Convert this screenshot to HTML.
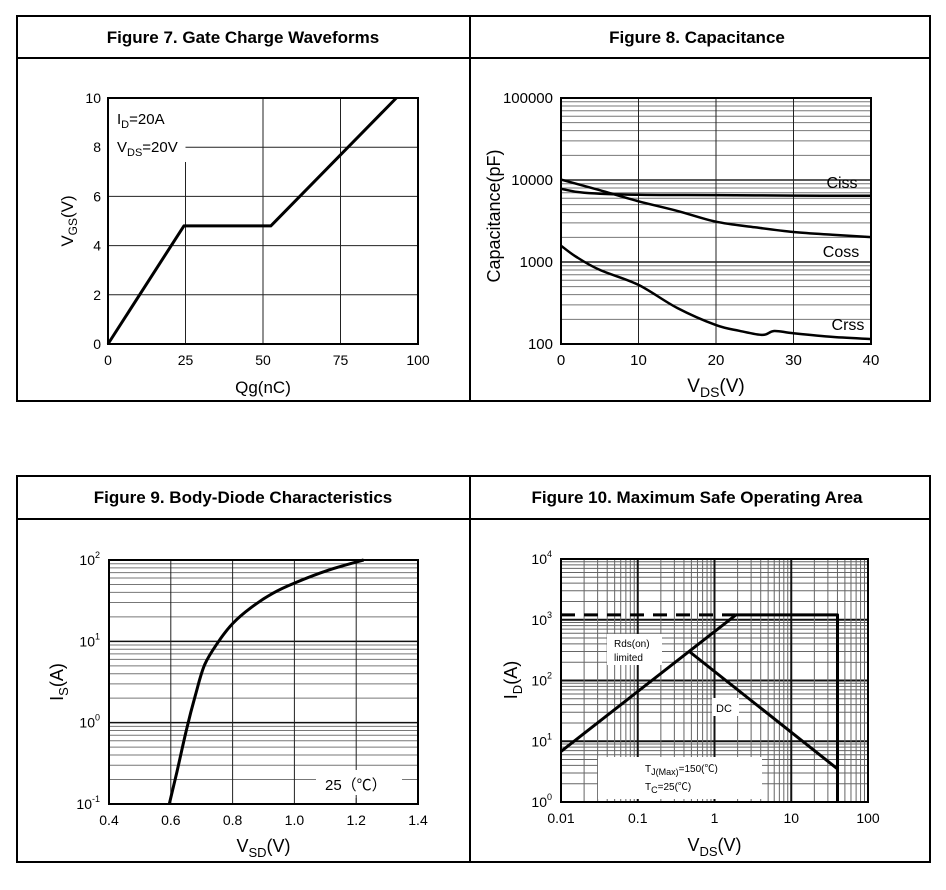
<!DOCTYPE html>
<html><head><meta charset="utf-8"><style>
html,body{margin:0;padding:0;background:#fff;}
svg{display:block;font-family:"Liberation Sans","Noto Sans CJK SC",sans-serif;}
</style></head><body>
<svg id="s" width="946" height="890" viewBox="0 0 946 890" xmlns="http://www.w3.org/2000/svg">
<g id="frames">
<rect x="17" y="16" width="913" height="385" fill="none" stroke="#000" stroke-width="2"/>
<line x1="470" y1="16" x2="470" y2="401" stroke="#000" stroke-width="2"/>
<line x1="17" y1="58" x2="930" y2="58" stroke="#000" stroke-width="2"/>
<rect x="17" y="476" width="913" height="386" fill="none" stroke="#000" stroke-width="2"/>
<line x1="470" y1="476" x2="470" y2="862" stroke="#000" stroke-width="2"/>
<line x1="17" y1="519" x2="930" y2="519" stroke="#000" stroke-width="2"/>
<text x="243" y="43" text-anchor="middle" font-size="17" font-weight="bold">Figure 7. Gate Charge Waveforms</text>
<text x="697" y="43" text-anchor="middle" font-size="17" font-weight="bold">Figure 8. Capacitance</text>
<text x="243" y="503" text-anchor="middle" font-size="17" font-weight="bold">Figure 9. Body-Diode Characteristics</text>
<text x="697" y="503" text-anchor="middle" font-size="17" font-weight="bold">Figure 10. Maximum Safe Operating Area</text>
</g>
</svg>
<script>
// ---- Figure 7 data ----
const f7Q = [0, 24.5, 52.5, 93];
const f7V = [0, 4.8, 4.8, 10];
const f7XTicks = [0, 25, 50, 75, 100];
const f7YTicks = [0, 2, 4, 6, 8, 10];
// ---- Figure 8 data ----
const f8CissX = [0, 3, 10, 20, 30, 40];
const f8Ciss = [7800, 7000, 6600, 6550, 6450, 6420];
const f8CossX = [0, 5, 10, 15, 20, 25, 30, 35, 40];
const f8Coss = [10100, 7500, 5500, 4200, 3100, 2650, 2320, 2150, 2010];
const f8CrssX = [0, 2, 5, 10, 15, 20, 23, 26, 27.5, 30, 35, 40];
const f8Crss = [1580, 1150, 800, 525, 275, 170, 145, 129, 144, 135, 122, 115];
const f8XTicks = [0, 10, 20, 30, 40];
const f8YTicks = ["100", "1000", "10000", "100000"];
// ---- Figure 9 data ----
const f9V = [0.595, 0.62, 0.65, 0.68, 0.71, 0.755, 0.80, 0.86, 0.93, 1.0, 1.11, 1.224];
const f9I = [0.1, 0.25, 0.8, 2.2, 5.2, 10, 16.5, 26, 39, 52, 75, 100];
const f9XTicks = ["0.4", "0.6", "0.8", "1.0", "1.2", "1.4"];
// ---- Figure 10 data ----
const f10RdsV = [0.01, 1.9];
const f10RdsI = [6.8, 1200];
const f10DcV = [0.47, 40, 40];
const f10DcI = [300, 3.5, 1];
const f10LimV = [1.9, 40, 40];
const f10LimI = [1200, 1200, 3.5];
const f10DashV = [0.01, 1.9];
const f10DashI = [1200, 1200];
const f10XTicks = ["0.01", "0.1", "1", "10", "100"];

const NS = "http://www.w3.org/2000/svg";
const svg = document.getElementById('s');
function mk(tag, attrs, parent) {
  const e = document.createElementNS(NS, tag);
  for (const k in attrs) e.setAttribute(k, attrs[k]);
  (parent || svg).appendChild(e);
  return e;
}
function lin(d0, d1, p0, p1) { return v => p0 + (v - d0) / (d1 - d0) * (p1 - p0); }
function logs(d0, d1, p0, p1) { return v => p0 + (Math.log10(v) - Math.log10(d0)) / (Math.log10(d1) - Math.log10(d0)) * (p1 - p0); }
function hl(g, y, x0, x1, w, c) { const l = mk('line', {x1: x0, x2: x1, y1: y, y2: y, stroke: c, 'stroke-width': w}, g);   }
function vl(g, x, y0, y1, w, c) { const l = mk('line', {x1: x, x2: x, y1: y0, y2: y1, stroke: c, 'stroke-width': w}, g);   }
function txt(g, x, y, s, attrs, name) {
  const t = mk('text', Object.assign({x: x, y: y, 'font-size': 14}, attrs || {}), g);
  t.innerHTML = s;
  
  
  return t;
}
function path(g, xs, ys, sx, sy, w, name, dash, smooth) {
  const P = xs.map((x, i) => [sx(x), sy(ys[i])]);
  let d = 'M' + P[0][0].toFixed(1) + ',' + P[0][1].toFixed(1);
  for (let i = 1; i < P.length; i++) {
    if (smooth) {
      const p0 = P[Math.max(0, i - 2)], p1 = P[i - 1], p2 = P[i], p3 = P[Math.min(P.length - 1, i + 1)];
      const c1 = [p1[0] + (p2[0] - p0[0]) / 6, p1[1] + (p2[1] - p0[1]) / 6];
      const c2 = [p2[0] - (p3[0] - p1[0]) / 6, p2[1] - (p3[1] - p1[1]) / 6];
      d += 'C' + c1[0].toFixed(1) + ',' + c1[1].toFixed(1) + ' ' + c2[0].toFixed(1) + ',' + c2[1].toFixed(1) + ' ' + p2[0].toFixed(1) + ',' + p2[1].toFixed(1);
    } else {
      d += 'L' + P[i][0].toFixed(1) + ',' + P[i][1].toFixed(1);
    }
  }
  const p = mk('path', {d: d, fill: 'none', stroke: '#000', 'stroke-width': w, 'stroke-linejoin': 'round'}, g);
  if (dash) p.setAttribute('stroke-dasharray', dash);
  
  
}
function frame(g, x0, y0, x1, y1) {
  const r = mk('rect', {x: x0, y: y0, width: x1 - x0, height: y1 - y0, fill: 'none', stroke: '#000', 'stroke-width': 2}, g);
  
  
}
function whiteBox(g, x, y, w, h, name) {
  const r = mk('rect', {x: x, y: y, width: w, height: h, fill: '#fff'}, g);
  
  
}

// ===== Figure 7 =====
(function () {
  const g = mk('g', {});
  
  
  const X0 = 108, X1 = 418, Y0 = 344, Y1 = 98;
  const sx = lin(0, 100, X0, X1), sy = lin(0, 10, Y0, Y1);
  f7XTicks.forEach(v => { if (v > 0 && v < 100) vl(g, sx(v), v === 25 ? sy(7.4) : Y1, Y0, 1, '#222'); });
  f7YTicks.forEach(v => { if (v > 0 && v < 10) hl(g, sy(v), v === 8 ? sx(25) : X0, X1, 1, '#222'); });
  frame(g, X0, Y1, X1, Y0);
  path(g, f7Q, f7V, sx, sy, 3, 'vgs-curve');
  f7XTicks.forEach(v => txt(g, sx(v), 365, v, {'text-anchor': 'middle'}, 'x-tick-label'));
  f7YTicks.forEach(v => txt(g, X0 - 7, sy(v) + 5, v, {'text-anchor': 'end'}, 'y-tick-label'));
  txt(g, sx(50), 393, 'Qg(nC)', {'text-anchor': 'middle', 'font-size': 17}, 'x-axis-title');
  txt(g, 0, 0, 'V<tspan font-size="12" dy="4">GS</tspan><tspan dy="-4">(V)</tspan>', {'text-anchor': 'middle', 'font-size': 17, transform: 'translate(73,221) rotate(-90)'}, 'y-axis-title');
  txt(g, 117, 124, 'I<tspan font-size="11" dy="4">D</tspan><tspan dy="-4">=20A</tspan>', {'font-size': 15}, 'id-annotation');
  txt(g, 117, 152, 'V<tspan font-size="11" dy="4">DS</tspan><tspan dy="-4">=20V</tspan>', {'font-size': 15}, 'vds-annotation');
})();

// ===== Figure 8 =====
(function () {
  const g = mk('g', {});
  
  
  const X0 = 561, X1 = 871, Y0 = 344, Y1 = 98;
  const sx = lin(0, 40, X0, X1), sy = logs(100, 100000, Y0, Y1);
  for (let d = 100; d < 100000; d *= 10) {
    for (let m = 2; m < 10; m++) hl(g, sy(d * m), X0, X1, 1, '#777');
    if (d > 100) hl(g, sy(d), X0, X1, 1.5, '#222');
  }
  f8XTicks.forEach(v => { if (v > 0 && v < 40) vl(g, sx(v), Y1, Y0, 1, '#222'); });
  frame(g, X0, Y1, X1, Y0);
  path(g, f8CissX, f8Ciss, sx, sy, 2.5, 'ciss-curve', null, true);
  path(g, f8CossX, f8Coss, sx, sy, 2.5, 'coss-curve', null, true);
  path(g, f8CrssX, f8Crss, sx, sy, 2.5, 'crss-curve', null, true);
  txt(g, 842, 188, 'Ciss', {'text-anchor': 'middle', 'font-size': 16}, 'ciss-label');
  txt(g, 841, 257, 'Coss', {'text-anchor': 'middle', 'font-size': 16}, 'coss-label');
  txt(g, 848, 330, 'Crss', {'text-anchor': 'middle', 'font-size': 16}, 'crss-label');
  f8XTicks.forEach(v => txt(g, sx(v), 365, v, {'text-anchor': 'middle', 'font-size': 15}, 'x-tick-label'));
  f8YTicks.forEach(v => txt(g, X0 - 8, sy(+v) + 5, v, {'text-anchor': 'end', 'font-size': 15}, 'y-tick-label'));
  txt(g, sx(20), 392, 'V<tspan font-size="14" dy="5">DS</tspan><tspan dy="-5">(V)</tspan>', {'text-anchor': 'middle', 'font-size': 19}, 'x-axis-title');
  txt(g, 0, 0, 'Capacitance(pF)', {'text-anchor': 'middle', 'font-size': 18, transform: 'translate(500,216) rotate(-90)'}, 'y-axis-title');
})();

// ===== Figure 9 =====
(function () {
  const g = mk('g', {});
  
  
  const X0 = 109, X1 = 418, Y0 = 804, Y1 = 560;
  const sx = lin(0.4, 1.4, X0, X1), sy = logs(0.1, 100, Y0, Y1);
  for (let d = 0.1; d < 99; d *= 10) {
    for (let m = 2; m < 10; m++) hl(g, sy(d * m), X0, X1, 1, '#777');
    if (d > 0.15) hl(g, sy(d), X0, X1, 1.5, '#111');
  }
  f9XTicks.forEach(v => { const n = +v; if (n > 0.45 && n < 1.35) vl(g, sx(n), Y1, Y0, 1, '#222'); });
  whiteBox(g, 316, 770, 86, 28, 'legend-box');
  vl(g, sx(1.2), 795, Y0, 1, '#222');
  frame(g, X0, Y1, X1, Y0);
  path(g, f9V, f9I, sx, sy, 3, 'is-curve', null, true);
  txt(g, 325, 790, '25（℃）', {'font-size': 15}, 'temperature-legend');
  f9XTicks.forEach(v => txt(g, sx(+v), 825, v, {'text-anchor': 'middle'}, 'x-tick-label'));
  [-1, 0, 1, 2].forEach(e => txt(g, X0 - 9, sy(Math.pow(10, e)) + 5, '10<tspan font-size="9" dy="-7">' + e + '</tspan>', {'text-anchor': 'end'}, 'y-tick-label'));
  txt(g, sx(0.9), 852, 'V<tspan font-size="13" dy="5">SD</tspan><tspan dy="-5">(V)</tspan>', {'text-anchor': 'middle', 'font-size': 18}, 'x-axis-title');
  txt(g, 0, 0, 'I<tspan font-size="13" dy="5">S</tspan><tspan dy="-5">(A)</tspan>', {'text-anchor': 'middle', 'font-size': 18, transform: 'translate(63,682) rotate(-90)'}, 'y-axis-title');
})();

// ===== Figure 10 =====
(function () {
  const g = mk('g', {});
  
  
  const X0 = 561, X1 = 868, Y0 = 802, Y1 = 559;
  const sx = logs(0.01, 100, X0, X1), sy = logs(1, 10000, Y0, Y1);
  for (let d = 1; d < 10000; d *= 10) {
    for (let m = 2; m < 10; m++) hl(g, sy(d * m), X0, X1, 1, '#666');
    if (d > 1) hl(g, sy(d), X0, X1, 2, '#111');
  }
  for (let d = 0.01; d < 99; d *= 10) {
    for (let m = 2; m < 10; m++) vl(g, sx(d * m), Y1, Y0, 1, '#666');
    if (d > 0.015) vl(g, sx(d), Y1, Y0, 2, '#111');
  }
  whiteBox(g, 607, 634, 55, 31, 'rds-label-box');
  whiteBox(g, 712, 698, 27, 18, 'dc-label-box');
  whiteBox(g, 598, 757, 164, 42, 'conditions-box');
  frame(g, X0, Y1, X1, Y0);
  path(g, f10DashV, f10DashI, sx, sy, 3, 'current-limit-dashed', '14,9');
  path(g, f10LimV, f10LimI, sx, sy, 3, 'soa-boundary');
  path(g, f10RdsV, f10RdsI, sx, sy, 3, 'rds-on-limit-line');
  path(g, f10DcV, f10DcI, sx, sy, 3, 'dc-line');
  txt(g, 614, 647, 'Rds(on)', {'font-size': 10}, 'rds-on-label');
  txt(g, 614, 661, 'limited', {'font-size': 10}, 'limited-label');
  txt(g, 716, 712, 'DC', {'font-size': 11}, 'dc-label');
  txt(g, 645, 772, 'T<tspan font-size="9" dy="3">J(Max)</tspan><tspan dy="-3">=150(℃)</tspan>', {'font-size': 10}, 'tj-max-label');
  txt(g, 645, 790, 'T<tspan font-size="9" dy="3">C</tspan><tspan dy="-3">=25(℃)</tspan>', {'font-size': 10}, 'tc-label');
  f10XTicks.forEach(v => txt(g, sx(+v), 823, v, {'text-anchor': 'middle'}, 'x-tick-label'));
  [0, 1, 2, 3, 4].forEach(e => txt(g, X0 - 9, sy(Math.pow(10, e)) + 5, '10<tspan font-size="9" dy="-7">' + e + '</tspan>', {'text-anchor': 'end'}, 'y-tick-label'));
  txt(g, sx(1), 851, 'V<tspan font-size="13" dy="5">DS</tspan><tspan dy="-5">(V)</tspan>', {'text-anchor': 'middle', 'font-size': 18}, 'x-axis-title');
  txt(g, 0, 0, 'I<tspan font-size="13" dy="5">D</tspan><tspan dy="-5">(A)</tspan>', {'text-anchor': 'middle', 'font-size': 18, transform: 'translate(517,680) rotate(-90)'}, 'y-axis-title');
})();
</script>
</body></html>
